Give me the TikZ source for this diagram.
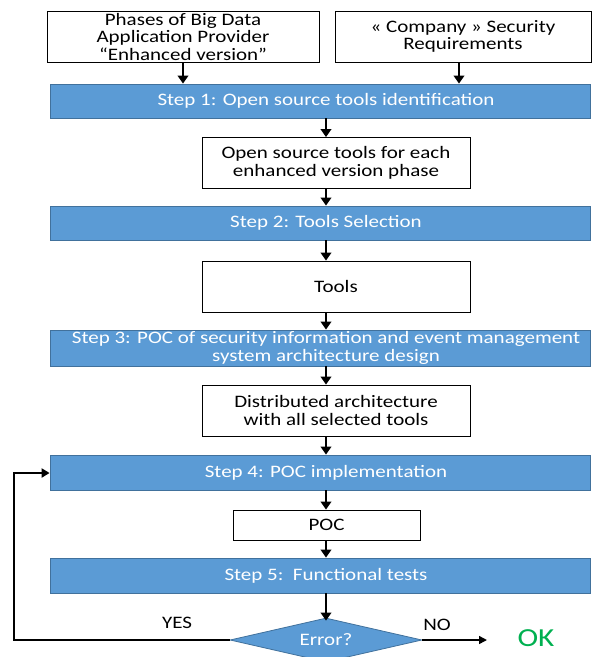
\documentclass[tikz,border=0pt]{standalone}
\usepackage{fontspec}
\setmainfont{Carlito}[FakeStretch=1.2]
\usetikzlibrary{arrows.meta,shapes.geometric}
\definecolor{stepfill}{HTML}{5B9BD5}
\definecolor{stepline}{HTML}{41719C}
\definecolor{okgreen}{HTML}{00B050}
% the step captions sit a little right of the bar centre
\newcommand{\barpad}{\hspace*{12pt}}
\tikzset{
  stepbar/.style={draw=stepline, line width=0.8pt, fill=stepfill, text=white,
    minimum width=540pt, inner sep=0pt, align=center, font=\fontsize{17.5}{17.5}\selectfont},
  infobox/.style={draw=black, line width=0.8pt, fill=white, inner sep=0pt,
    align=center, font=\fontsize{17.5}{17.5}\selectfont},
  flow/.style={line width=2.5pt, -{Triangle[length=8pt,width=10.5pt]}},
  loopline/.style={line width=2pt, -{Triangle[length=8pt,width=9pt]}},
  decision/.style={diamond, aspect=4.4, draw=stepline, line width=0.8pt, fill=stepfill,
    text=white, inner sep=0pt, minimum width=192pt, minimum height=44pt,
    font=\fontsize{17.5}{17.5}\selectfont},
  lbl/.style={font=\fontsize{17.5}{17.5}\selectfont, inner sep=0pt}
}
\begin{document}
\begin{tikzpicture}[x=1pt,y=-1pt]
\useasboundingbox (0,0) rectangle (592,657);
\begin{scope}
\clip (0,0) rectangle (592,657);

% inputs
\node[infobox, minimum width=272pt, minimum height=51pt] (phases) at (183,36.5)
  {Phases of Big Data\\Application Provider\\“Enhanced version”};
\node[infobox, minimum width=256pt, minimum height=51pt] (req) at (463,36.5)
  {« Company » Security\\Requirements};

% steps and their outputs
\node[stepbar, minimum height=34pt] (s1) at (320,101) {\barpad Step 1: Open source tools identification};
\node[infobox, minimum width=268pt, minimum height=51pt] (tools1) at (336,163)
  {Open source tools for each\\enhanced version phase};
\node[stepbar, minimum height=34pt] (s2) at (320,223) {\barpad Step 2: Tools Selection};
\node[infobox, minimum width=268pt, minimum height=51pt] (tools2) at (336,286.5) {Tools};
\node[stepbar, minimum height=36pt] (s3) at (320,348)
  {\barpad Step 3: POC of security information and event management\\\barpad system architecture design};
\node[infobox, minimum width=268pt, minimum height=51pt] (arch) at (336,410.5)
  {Distributed architecture\\with all selected tools};
\node[stepbar, minimum height=35pt] (s4) at (320,472.5) {\barpad Step 4: POC implementation};
\node[infobox, minimum width=187pt, minimum height=30pt] (poc) at (326.5,525) {POC};
\node[stepbar, minimum height=35pt] (s5) at (320,575.5) {\barpad Step 5:\ \ Functional tests};
\node[decision] (err) at (326,640) {Error?};

% outcome labels
\node[lbl] (yes) at (177,623) {YES};
\node[lbl] (no) at (437,625) {NO};
\node[lbl, text=okgreen, font=\fontsize{26}{26}\selectfont] (ok) at (536,638) {OK};
\coordinate (okin) at (487,640);
\coordinate (loopbl) at (14,640);
\coordinate (looptl) at (14,473);

% connectors
\draw[flow] (phases.south) -- (phases.south |- s1.north);
\draw[flow] ([xshift=-4pt]req.south) -- ([xshift=-4pt]req.south |- s1.north);
\draw[flow] (s1.south -| err.north) -- (tools1.north -| err.north);
\draw[flow] (tools1.south -| err.north) -- (s2.north -| err.north);
\draw[flow] (s2.south -| err.north) -- (tools2.north -| err.north);
\draw[flow] (tools2.south -| err.north) -- (s3.north -| err.north);
\draw[flow] (s3.south -| err.north) -- (arch.north -| err.north);
\draw[flow] (arch.south -| err.north) -- (s4.north -| err.north);
\draw[flow] (s4.south -| err.north) -- (poc.north -| err.north);
\draw[flow] (poc.south -| err.north) -- (s5.north -| err.north);
\draw[flow] (s5.south -| err.north) -- ([yshift=-3pt]err.north);
\draw[line width=1.5pt, -{Triangle[length=8pt,width=8pt]}] (err.east) -- (okin);
\draw[loopline] (err.west) -- (loopbl) -- (looptl) -- (s4.west |- looptl);
\end{scope}
\end{tikzpicture}
\end{document}
